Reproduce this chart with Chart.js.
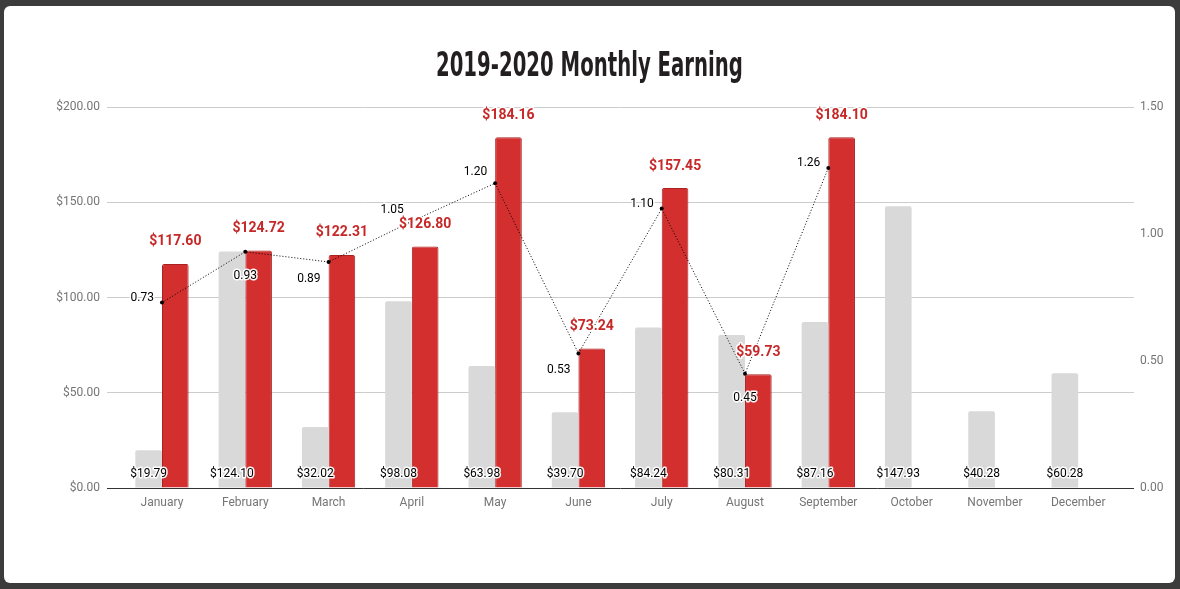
<!DOCTYPE html>
<html>
<head>
<meta charset="utf-8">
<script src="https://cdn.jsdelivr.net/npm/chart.js@4.4.1/dist/chart.umd.min.js"></script>
<style>
    html, body { margin: 0; padding: 0; background: #3c3c3c; }
    #card { position: absolute; left: 4px; top: 6px; width: 1171px; height: 577px; background: #fff; border-radius: 6px; overflow: hidden; }
    #title { position: absolute; left: 0; top: 38px; width: 1171px; text-align: center; margin: 0;
             font-family: 'DejaVu Sans Condensed', 'DejaVu Sans', sans-serif; font-stretch: condensed;
             font-weight: bold; font-size: 34px; line-height: 40px; color: #231f20; }
    #title span { display: inline-block; transform-origin: center; white-space: nowrap; }
    canvas { display: block; }
</style>
</head>
<body>
<div id="card">
    <canvas id="earningChart" width="1171" height="577"></canvas>
    <h1 id="title"><span>2019-2020 Monthly Earning</span></h1>
</div>
<script>
const months = ['January', 'February', 'March', 'April', 'May', 'June', 'July', 'August', 'September', 'October', 'November', 'December'];
const earnings2019 = [19.79, 124.10, 32.02, 98.08, 63.98, 39.70, 84.24, 80.31, 87.16, 147.93, 40.28, 60.28];
const earnings2020 = [117.60, 124.72, 122.31, 126.80, 184.16, 73.24, 157.45, 59.73, 184.10];
const growthRatio = [0.73, 0.93, 0.89, 1.05, 1.20, 0.53, 1.10, 0.45, 1.26];
const leftTicks = [0, 50, 100, 150, 200];
const rightTicks = [0, 0.5, 1.0, 1.5];

// where each ratio label sits next to its point
const ratioLabelPlace = ['left', 'below', 'belowLeft', 'aboveLeft', 'aboveLeft', 'belowLeft', 'left', 'below', 'left'];

// squeeze the title to the narrow look of the original
const titleSpan = document.querySelector('#title span');
titleSpan.style.transform = 'scaleX(' + (307 / titleSpan.getBoundingClientRect().width) + ')';

function haloText(ctx, text, x, y) {
    ctx.strokeText(text, x, y);
    ctx.fillText(text, x, y);
}

const valueLabels = {
    id: 'valueLabels',
    afterDatasetsDraw(chart) {
        const ctx = chart.ctx;
        const yScale = chart.scales.y;
        ctx.save();
        ctx.lineJoin = 'round';
        ctx.lineWidth = 3;
        ctx.strokeStyle = 'rgba(255,255,255,0.95)';

        // 2019 values along the bottom
        ctx.font = '12px Roboto';
        ctx.textAlign = 'center';
        ctx.textBaseline = 'middle';
        ctx.fillStyle = '#000';
        chart.getDatasetMeta(0).data.forEach((bar, i) => {
            haloText(ctx, '$' + earnings2019[i].toFixed(2), bar.x, yScale.getPixelForValue(0) - 14);
        });

        // 2020 values above the red bars
        ctx.font = 'bold 14px Roboto';
        ctx.fillStyle = '#c62828';
        chart.getDatasetMeta(1).data.forEach((bar, i) => {
            haloText(ctx, '$' + earnings2020[i].toFixed(2), bar.x, bar.y - 22);
        });

        // ratio labels
        ctx.font = '12px Roboto';
        ctx.fillStyle = '#000';
        chart.getDatasetMeta(2).data.forEach((pt, i) => {
            const t = growthRatio[i].toFixed(2);
            const place = ratioLabelPlace[i];
            if (place === 'below') {
                ctx.textAlign = 'center';
                haloText(ctx, t, pt.x, pt.y + 24);
            } else if (place === 'belowLeft') {
                ctx.textAlign = 'right';
                haloText(ctx, t, pt.x - 8, pt.y + 17);
            } else if (place === 'aboveLeft') {
                ctx.textAlign = 'right';
                haloText(ctx, t, pt.x - 8, pt.y - 11);
            } else {
                ctx.textAlign = 'right';
                haloText(ctx, t, pt.x - 8, pt.y - 5);
            }
        });
        ctx.restore();
    }
};

const ctx = document.getElementById('earningChart').getContext('2d');
new Chart(ctx, {
    data: {
        datasets: [{
            type: 'bar',
            label: '2019',
            data: earnings2019.map((v, i) => ({ x: i, y: v })),
            backgroundColor: '#d9d9d9',
            borderWidth: 0,
            borderRadius: 2,
            borderSkipped: 'bottom',
            yAxisID: 'y',
            order: 1,
            barPercentage: 1,
            categoryPercentage: 0.64
        }, {
            type: 'bar',
            label: '2020',
            data: earnings2020.map((v, i) => ({ x: i, y: v })),
            backgroundColor: '#d32f2f',
            borderColor: '#a82222',
            borderWidth: 1,
            borderRadius: 2,
            borderSkipped: 'bottom',
            yAxisID: 'y',
            order: 1,
            barPercentage: 1,
            categoryPercentage: 0.64
        }, {
            type: 'line',
            label: 'Ratio',
            data: growthRatio.map((v, i) => ({ x: i, y: v })),
            borderColor: '#000',
            borderWidth: 1,
            borderDash: [1, 2],
            pointRadius: 2,
            pointBackgroundColor: '#000',
            pointBorderWidth: 0,
            tension: 0,
            yAxisID: 'y1',
            order: 0
        }]
    },
    options: {
        responsive: false,
        animation: false,
        layout: { padding: { top: 101 } },
        plugins: {
            legend: { display: false },
            tooltip: { enabled: false }
        },
        scales: {
            x: {
                type: 'linear',
                offset: false,
                min: -0.66,
                max: 11.67,
                grid: { display: false, drawTicks: false },
                border: { display: false },
                afterBuildTicks: (s) => { s.ticks = months.map((m, i) => ({ value: i })); },
                afterFit: (s) => { s.height = 95; },
                ticks: {
                    autoSkip: false,
                    maxRotation: 0,
                    padding: 8,
                    color: '#757575',
                    font: { family: 'Roboto', size: 12 },
                    callback: (v) => months[v]
                }
            },
            y: {
                position: 'left',
                min: 0,
                max: 200,
                afterBuildTicks: (s) => { s.ticks = leftTicks.map(v => ({ value: v })); },
                afterFit: (s) => { s.width = 103; },
                grid: {
                    color: (c) => c.tick.value === 0 ? '#333333' : '#cccccc',
                    drawTicks: false
                },
                border: { display: false },
                ticks: {
                    padding: 7,
                    color: '#757575',
                    font: { family: 'Roboto', size: 12 },
                    callback: (v) => '$' + v.toFixed(2)
                }
            },
            y1: {
                position: 'right',
                min: 0,
                max: 1.5,
                afterBuildTicks: (s) => { s.ticks = rightTicks.map(v => ({ value: v })); },
                afterFit: (s) => { s.width = 41; },
                grid: { drawOnChartArea: false, drawTicks: false },
                border: { display: false },
                ticks: {
                    padding: 6,
                    color: '#757575',
                    font: { family: 'Roboto', size: 12 },
                    callback: (v) => v.toFixed(2)
                }
            }
        }
    },
    plugins: [valueLabels]
});
</script>
</body>
</html>
